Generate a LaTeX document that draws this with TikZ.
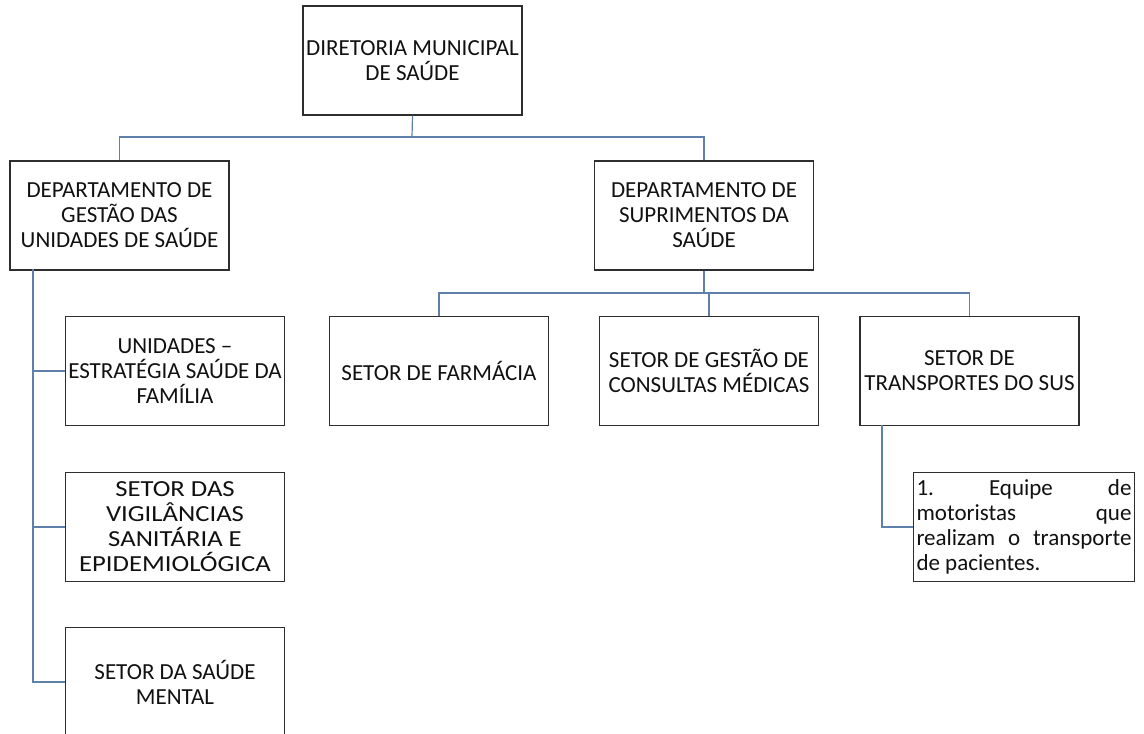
\documentclass[tikz,border=0pt]{standalone}
\usepackage{fontspec}
\setmainfont{Carlito}
\newfontfamily\widefont[FakeStretch=1.16]{Carlito}
\definecolor{boxc}{HTML}{2E2E2E}
\definecolor{linec}{HTML}{5F80AA}
\definecolor{txtc}{HTML}{111111}
\begin{document}
\begin{tikzpicture}[x=1pt,y=-1pt,
  box/.style={draw=boxc, line width=1.3pt, minimum width=219pt, minimum height=109pt,
    align=center, inner sep=1pt, text=txtc, font=\fontsize{23}{25}\selectfont},
  conn/.style={draw=linec, line width=1.2pt}]
\clip (0,0) rectangle (1144,734);
\fill[white] (0,0) rectangle (1144,734);
% nodes
\node[box] (dir)    at (412.5,60.5) {DIRETORIA MUNICIPAL\\DE SAÚDE};
\node[box] (dep1)   at (119.5,215.5) {DEPARTAMENTO DE\\GESTÃO DAS\\UNIDADES DE SAÚDE};
\node[box] (dep2)   at (704,215.5) {DEPARTAMENTO DE\\SUPRIMENTOS DA\\SAÚDE};
\node[box] (un1)    at (175,371) {UNIDADES –\\ESTRATÉGIA SAÚDE DA\\FAMÍLIA};
\node[box, font=\widefont\fontsize{23}{25}\selectfont] (un2) at (175,527) {SETOR DAS\\VIGILÂNCIAS\\SANITÁRIA E\\EPIDEMIOLÓGICA};
\node[box] (un3)    at (175,682) {SETOR DA SAÚDE\\MENTAL};
\node[box] (farm)   at (439,371) {SETOR DE FARMÁCIA};
\node[box] (cons)   at (709,371) {SETOR DE GESTÃO DE\\CONSULTAS MÉDICAS};
\node[box] (transp) at (969.5,371) {SETOR DE\\TRANSPORTES DO SUS};
\node[box, minimum width=221pt, text width=215pt, align=justify, inner xsep=3pt] (eq) at (1024,527)
  {\noindent 1.\ Equipe de\linebreak motoristas que\linebreak realizam o transporte\linebreak de pacientes.};
% connectors
\coordinate (h1) at (412,137);
\draw[conn] (dir.south) -- (h1);
\draw[conn] (dep1.north) |- (h1);
\draw[conn] (dep2.north) |- (h1);
\coordinate (h2) at (704,293);
\draw[conn] (dep2.south) -- (h2);
\draw[conn] (farm.north) |- (h2);
\draw[conn] (cons.north) |- (h2);
\draw[conn] (transp.north) |- (h2);
\coordinate (t0) at (33,269);
\draw[conn] (t0) |- (un3.west);
\draw[conn] (t0 |- un1.west) -- (un1.west);
\draw[conn] (t0 |- un2.west) -- (un2.west);
\coordinate (t1) at (882,425);
\draw[conn] (t1) |- (eq.west);
\end{tikzpicture}
\end{document}
